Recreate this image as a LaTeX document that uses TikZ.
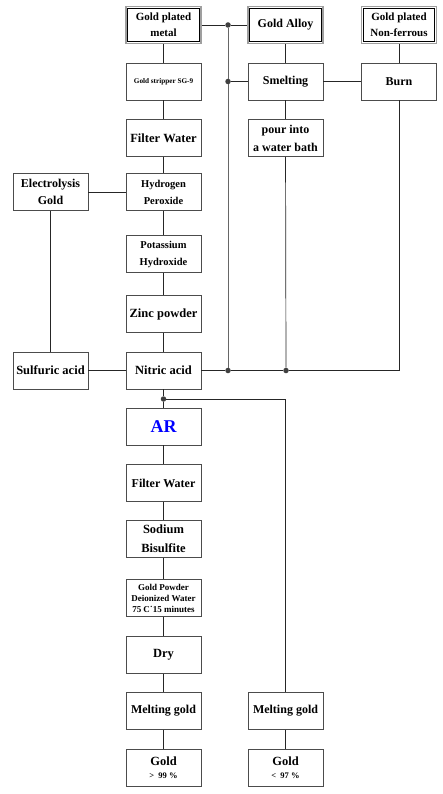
\documentclass[tikz,border=0pt]{standalone}
\usepackage{fontspec}
\setmainfont{Liberation Serif}
\begin{document}
\begin{tikzpicture}[x=1pt, y=-1pt,
    box/.style={draw=black!70, line width=0.9pt, fill=white, minimum width=75pt,
        minimum height=37pt, inner sep=1pt, align=center,
        font=\bfseries\fontsize{12.5}{15}\selectfont},
    dbox/.style={box, draw=gray!75, line width=1.6pt,
        path picture={\draw[black, line width=0.7pt]
            ([shift={(1.8pt,-1.8pt)}]path picture bounding box.north west) rectangle
            ([shift={(-1.8pt,1.8pt)}]path picture bounding box.south east);}},
    link/.style={draw=black!85, line width=0.7pt},
    dot/.style={circle, fill=black!75, inner sep=0pt, minimum size=5.5pt}]
    \useasboundingbox (0,0) rectangle (442,794);

    % TOP: raw materials
    \node[dbox, font=\bfseries\fontsize{11}{16}\selectfont] (gpm) at (163.5,25) {Gold plated\\metal};
    \node[dbox, font=\bfseries\fontsize{12}{15}\selectfont] (alloy) at (285.5,25) {Gold Alloy};
    \node[dbox, font=\bfseries\fontsize{11}{16}\selectfont] (nonfe) at (399,25) {Gold plated\\Non-ferrous};

    % MAIN column
    \node[box, font=\bfseries\fontsize{7.2}{9}\selectfont] (stripper) at (163.5,81.5) {Gold stripper SG-9};
    \node[box] (filterA) at (163.5,138) {Filter Water};
    \node[box, font=\bfseries\fontsize{10.5}{17}\selectfont] (peroxide) at (163.5,192) {Hydrogen\\Peroxide};
    \node[box, font=\bfseries\fontsize{10.5}{17}\selectfont] (hydroxide) at (163.5,254) {Potassium\\Hydroxide};
    \node[box] (zinc) at (163.5,314) {Zinc powder};
    \node[box] (nitric) at (163.5,370.5) {Nitric acid};
    \node[box, font=\bfseries\fontsize{18}{20}\selectfont, text=blue] (ar) at (163.5,426.5) {AR};
    \node[box, font=\bfseries\fontsize{12}{15}\selectfont] (filterB) at (163.5,483) {Filter Water};
    \node[box, font=\bfseries\fontsize{12.5}{19}\selectfont] (bisulfite) at (163.5,539) {Sodium\\Bisulfite};
    \node[box, font=\bfseries\fontsize{9}{11}\selectfont] (powder) at (163.5,598) {Gold Powder\\Deionized Water\\75 C˙15 minutes};
    \node[box] (dry) at (163.5,655) {Dry};
    \node[box, font=\bfseries\fontsize{12}{15}\selectfont] (meltA) at (163.5,711) {Melting gold};
    \node[box] (goldA) at (163.5,768) {Gold\\[-2pt]{\fontsize{8.5}{9}\selectfont >~~99 \%}};

    % SIDE columns
    \node[box, font=\bfseries\fontsize{12}{15}\selectfont] (smelt) at (285.5,81.5) {Smelting};
    \node[box, font=\bfseries\fontsize{12}{18}\selectfont] (pour) at (285.5,138) {pour into\\a water bath};
    \node[box, font=\bfseries\fontsize{12}{15}\selectfont] (burn) at (399,81.5) {Burn};
    \node[box, font=\bfseries\fontsize{12}{17}\selectfont] (electro) at (50.5,192) {Electrolysis\\Gold};
    \node[box] (sulfuric) at (50.5,370.5) {Sulfuric acid};
    \node[box, font=\bfseries\fontsize{12}{15}\selectfont] (meltB) at (285.5,711) {Melting gold};
    \node[box] (goldB) at (285.5,768) {Gold\\[-2pt]{\fontsize{8.5}{9}\selectfont <~~97 \%}};

    % junctions
    \node[dot] (j1) at (228,25) {};
    \node[dot] (j2) at (228,81.5) {};
    \node[dot] (j3) at (228,370.5) {};
    \node[dot] (j5) at (286,370.5) {};
    \node[dot] (j4) at (163.5,399) {};
    \coordinate (corner) at (399,370.5);

    % connectors, main column
    \draw[link] (gpm) -- (stripper) -- (filterA) -- (peroxide) -- (hydroxide) -- (zinc) -- (nitric);
    \draw[link] (nitric) -- (j4) -- (ar) -- (filterB) -- (bisulfite) -- (powder) -- (dry) -- (meltA) -- (goldA);
    \draw[link] (j4) -| (meltB);
    \draw[link] (meltB) -- (goldB);

    % connectors, top
    \draw[link] (gpm) -- (j1) -- (alloy);
    \draw[link, draw=black!60, line width=1pt] (j1) -- (j2) -- (j3);
    \draw[link] (j2) -- (smelt);
    \draw[link] (alloy) -- (smelt) -- (pour);
    \draw[link] (smelt) -- (burn);
    \draw[link] (nonfe) -- (burn);
    \draw[link] (pour) -- (j5);
    \draw[link] (burn) -- (corner) -- (j5) -- (j3) -- (nitric);

    % connectors, left
    \draw[link] (electro) -- (peroxide);
    \draw[link] (electro) -- (sulfuric);
    \draw[link] (sulfuric) -- (nitric);
\end{tikzpicture}
\end{document}
